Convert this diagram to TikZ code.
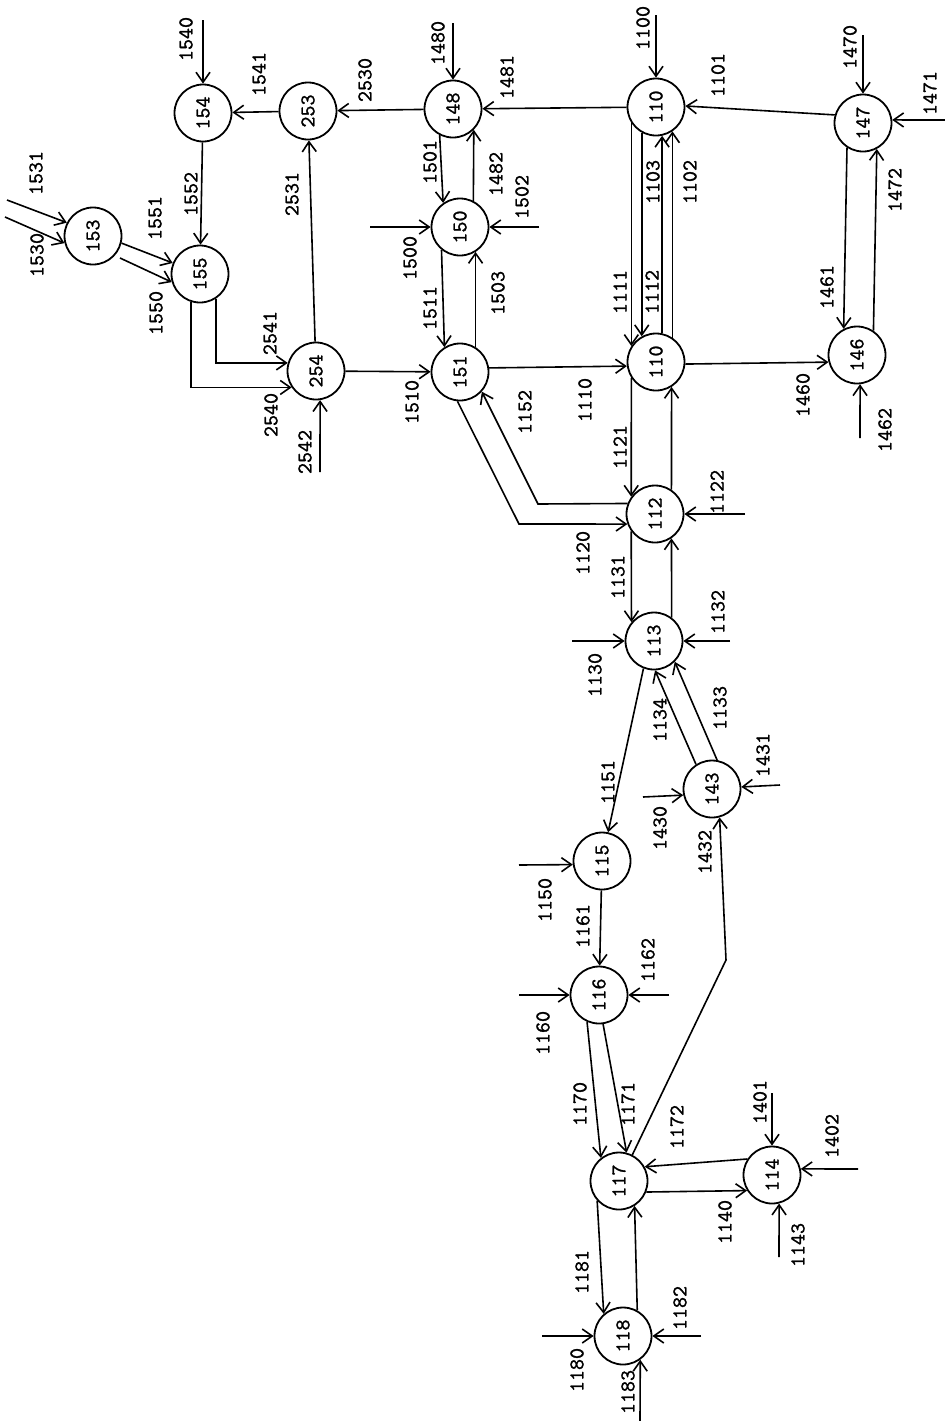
\documentclass[tikz,border=0pt]{standalone}
\usepackage{fontspec}
\newfontfamily\labfont{lmmono10-regular.otf}[FakeBold=1.2]
\usepackage{tikz}
\usetikzlibrary{arrows.meta}

\begin{document}
\begin{tikzpicture}[
x=0.5pt, y=-0.5pt,
font=\fontsize{10.5}{12}\selectfont\labfont,
stn/.style={draw, circle, line width=0.9pt, minimum size=28.5pt, inner sep=0pt},
lab/.style={rotate=90, inner sep=0pt},
arrow/.style={-{Straight Barb[length=5pt,width=7pt]}, line width=0.8pt}
]
\useasboundingbox (0,0) rectangle (945,1421);

\node[stn] (n153) at (93,236) {\rotatebox{90}{153}};
\node[stn] (n155) at (200,274) {\rotatebox{90}{155}};
\node[stn] (n154) at (203,113) {\rotatebox{90}{154}};
\node[stn] (n253) at (308,111) {\rotatebox{90}{253}};
\node[stn] (n254) at (316,371) {\rotatebox{90}{254}};
\node[stn] (n148) at (453,109) {\rotatebox{90}{148}};
\node[stn] (n150) at (460,227) {\rotatebox{90}{150}};
\node[stn] (n151) at (460,372) {\rotatebox{90}{151}};
\node[stn] (n110a) at (656,107) {\rotatebox{90}{110}};
\node[stn] (n110b) at (656,362) {\rotatebox{90}{110}};
\node[stn] (n147) at (863,123) {\rotatebox{90}{147}};
\node[stn] (n146) at (857,355) {\rotatebox{90}{146}};
\node[stn] (n112) at (655,514) {\rotatebox{90}{112}};
\node[stn] (n113) at (654,641) {\rotatebox{90}{113}};
\node[stn] (n143) at (712,789) {\rotatebox{90}{143}};
\node[stn] (n115) at (602,861) {\rotatebox{90}{115}};
\node[stn] (n116) at (599,995) {\rotatebox{90}{116}};
\node[stn] (n117) at (619,1181) {\rotatebox{90}{117}};
\node[stn] (n114) at (772,1175) {\rotatebox{90}{114}};
\node[stn] (n118) at (623,1336) {\rotatebox{90}{118}};

\coordinate (e1531) at (7,200);
\coordinate (e1530) at (5,217);
\coordinate (e1550) at (120,258);
\coordinate (e1540) at (203,20);
\coordinate (e2542) at (320,472);
\coordinate (e1480) at (453,23);
\coordinate (e1500) at (370,227);
\coordinate (e1502) at (539,227);
\coordinate (e1100) at (656,15);
\coordinate (e1470) at (863,35);
\coordinate (e1471) at (945,120);
\coordinate (e1462) at (860,438);
\coordinate (e1122) at (745,514);
\coordinate (e1130) at (572,641);
\coordinate (e1132) at (730,641);
\coordinate (e1430) at (643,797);
\coordinate (e1431) at (780,785);
\coordinate (e1150) at (519,865);
\coordinate (e1160) at (519,995);
\coordinate (e1162) at (669,995);
\coordinate (e1401) at (772,1093);
\coordinate (e1402) at (858,1169);
\coordinate (e1143) at (779,1257);
\coordinate (e1180) at (542,1336);
\coordinate (e1182) at (701,1336);
\coordinate (e1183) at (640,1421);
\coordinate (k1120) at (519,524);
\coordinate (k1152) at (538,504);
\coordinate (k1432) at (726,960);

\draw[arrow] (e1531) -- (n153.153);
\draw[arrow] (e1530) -- (n153.194);
\draw[arrow] (n153.-14) -- (n155.158);
\draw[arrow] (e1550) -- (n155.196);
\draw[arrow] (e1540) -- (n154);
\draw[arrow] (n253) -- (n154);
\draw[arrow] (n154) -- (n155);
\draw[arrow] (n155.-57) |- (n254.164);
\draw[arrow] (n155.252) |- (n254.214);
\draw[arrow] (e2542) -- (n254.-82);
\draw[arrow] (n254) -- (n253);
\draw[arrow] (n148) -- (n253);
\draw[arrow] (e1480) -- (n148);
\draw[arrow] (n110a) -- (n148);
\draw[arrow] (n148.-117) -- (n150.125);
\draw[arrow] (n150.63) -- (n148.-45);
\draw[arrow] (e1500) -- (n150);
\draw[arrow] (e1502) -- (n150);
\draw[arrow] (n150.-129) -- (n151.122);
\draw[arrow] (n151.58) -- (n150.-58);
\draw[arrow] (n254) -- (n151);
\draw[arrow] (n151.8) -- (n110b.188);
\draw[arrow] (n151.-95) -- (k1120) -- (n112.200);
\draw[arrow] (n112.159) -- (k1152) -- (n151.-42);
\draw[arrow] (n110b.-147) -- (n112.144);
\draw[arrow] (n112.56) -- (n110b.-58);
\draw[arrow] (e1122) -- (n112);
\draw[arrow] (n112.-144) -- (n113.140);
\draw[arrow] (n113.53) -- (n112.-56);
\draw[arrow] (e1130) -- (n113);
\draw[arrow] (e1132) -- (n113);
\draw[arrow] (n113.-111) -- (n115.78);
\draw[arrow] (n143.123) -- (n113.-88);
\draw[arrow] (n143.80) -- (n113.-45);
\draw[arrow] (e1430) -- (n143.192);
\draw[arrow] (e1431) -- (n143.4);
\draw[arrow] (n117.63) -- (k1432) -- (n143.-75);
\draw[arrow] (e1150) -- (n115.187);
\draw[arrow] (n115) -- (n116);
\draw[arrow] (e1160) -- (n116);
\draw[arrow] (e1162) -- (n116);
\draw[arrow] (n116.-114) -- (n117.128);
\draw[arrow] (n116.-82) -- (n117.75);
\draw[arrow] (n114.147) -- (n117.29);
\draw[arrow] (n117.-22) -- (n114.212);
\draw[arrow] (e1401) -- (n114);
\draw[arrow] (e1402) -- (n114.12);
\draw[arrow] (e1143) -- (n114.-76);
\draw[arrow] (n117.-138) -- (n118.131);
\draw[arrow] (n118.61) -- (n117.-58);
\draw[arrow] (e1180) -- (n118);
\draw[arrow] (e1182) -- (n118);
\draw[arrow] (e1183) -- (n118.-54);
\draw[arrow] (e1100) -- (n110a);
\draw[arrow] (n147.164) -- (n110a.2);
\draw[arrow] (e1470) -- (n147);
\draw[arrow] (e1471) -- (n147.6);
\draw[arrow] (n146.56) -- (n147.-62);
\draw[arrow] (n147.-123) -- (n146.117);
\draw[arrow] (n110b.-4) -- (n146.194);
\draw[arrow] (e1462) -- (n146.-84);
\draw[arrow] (n110a.-147) -- (n110b.147);
\draw[arrow] (n110a.-119) -- (n110b.119);
\draw[arrow] (n110b.78) -- (n110a.-78);
\draw[arrow] (n110b.56) -- (n110a.-56);

\node[lab] (l1531) at (36,173) {1531};
\node[lab] (l1530) at (37,255) {1530};
\node[lab] (l1551) at (155,218) {1551};
\node[lab] (l1550) at (156,313) {1550};
\node[lab] (l1540) at (186,39) {1540};
\node[lab] (l1541) at (259,74) {1541};
\node[lab] (l1552) at (191,194) {1552};
\node[lab] (l2541) at (270,333) {2541};
\node[lab] (l2540) at (271,415) {2540};
\node[lab] (l2542) at (305,452) {2542};
\node[lab] (l2531) at (292,194) {2531};
\node[lab] (l2530) at (365,80) {2530};
\node[lab] (l1480) at (438,43) {1480};
\node[lab] (l1481) at (507,77) {1481};
\node[lab] (l1501) at (430,162) {1501};
\node[lab] (l1482) at (496,174) {1482};
\node[lab] (l1500) at (410,258) {1500};
\node[lab] (l1502) at (522,197) {1502};
\node[lab] (l1511) at (430,308) {1511};
\node[lab] (l1503) at (498,293) {1503};
\node[lab] (l1510) at (412,402) {1510};
\node[lab] (l1110) at (585,400) {1110};
\node[lab] (l1152) at (525,412) {1152};
\node[lab] (l1120) at (583,553) {1120};
\node[lab] (l1121) at (620,447) {1121};
\node[lab] (l1122) at (717,492) {1122};
\node[lab] (l1131) at (618,577) {1131};
\node[lab] (l1132) at (718,612) {1132};
\node[lab] (l1130) at (595,675) {1130};
\node[lab] (l1151) at (608,782) {1151};
\node[lab] (l1134) at (660,720) {1134};
\node[lab] (l1133) at (720,708) {1133};
\node[lab] (l1430) at (660,828) {1430};
\node[lab] (l1431) at (763,755) {1431};
\node[lab] (l1432) at (705,852) {1432};
\node[lab] (l1150) at (545,900) {1150};
\node[lab] (l1161) at (583,926) {1161};
\node[lab] (l1160) at (543,1033) {1160};
\node[lab] (l1162) at (648,960) {1162};
\node[lab] (l1170) at (580,1104) {1170};
\node[lab] (l1171) at (628,1104) {1171};
\node[lab] (l1172) at (677,1127) {1172};
\node[lab] (l1140) at (725,1222) {1140};
\node[lab] (l1401) at (760,1102) {1401};
\node[lab] (l1402) at (832,1136) {1402};
\node[lab] (l1143) at (798,1245) {1143};
\node[lab] (l1181) at (582,1272) {1181};
\node[lab] (l1180) at (577,1370) {1180};
\node[lab] (l1182) at (680,1308) {1182};
\node[lab] (l1183) at (628,1392) {1183};
\node[lab] (l1100) at (643,28) {1100};
\node[lab] (l1101) at (718,75) {1101};
\node[lab] (l1470) at (850,47) {1470};
\node[lab] (l1471) at (930,93) {1471};
\node[lab] (l1472) at (895,190) {1472};
\node[lab] (l1461) at (827,287) {1461};
\node[lab] (l1460) at (803,395) {1460};
\node[lab] (l1462) at (885,430) {1462};
\node[lab] (l1111) at (620,292) {1111};
\node[lab] (l1112) at (652,292) {1112};
\node[lab] (l1103) at (653,182) {1103};
\node[lab] (l1102) at (690,182) {1102};
\end{tikzpicture}
\end{document}
